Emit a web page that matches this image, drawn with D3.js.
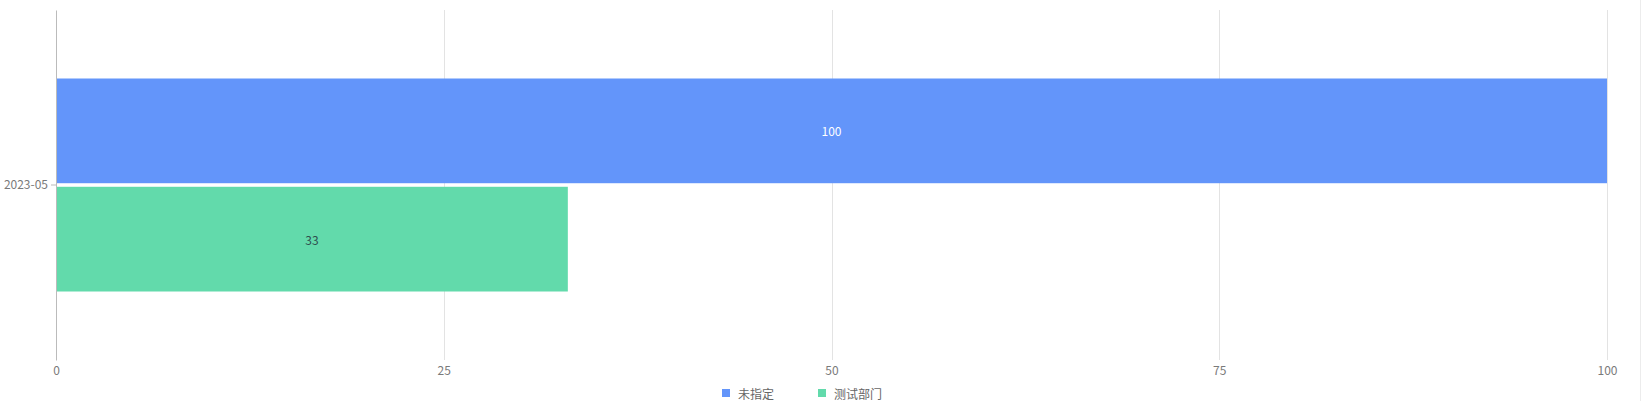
<!DOCTYPE html>
<html>
<head>
<meta charset="utf-8">
<script src="https://cdn.jsdelivr.net/npm/d3@7"></script>
<style>
  html, body { margin: 0; padding: 0; background: #fff; }
  body { font-family: "Noto Sans CJK SC", "Noto Sans", sans-serif; }
  svg { display: block; }
</style>
</head>
<body>
<script>
// data
const categories = ['2023-05'];
const seriesNames = ['未指定', '测试部门'];
const seriesValues = [[100], [33]];
const seriesColors = ['#6395FA', '#62DAAB'];
const labelColors = ['#ffffff', '#2f4f4f'];
const xTicks = [0, 25, 50, 75, 100];

const svgWidth = 1642,
  svgHeight = 401,
  margin = { top: 10, right: 35, bottom: 41, left: 56 },
  width = svgWidth - margin.left - margin.right,
  height = svgHeight - margin.top - margin.bottom;

const svg = d3.select('body').append('svg')
  .attr('width', svgWidth)
  .attr('height', svgHeight);

// faint right border
svg.append('line')
  .attr('x1', svgWidth - 1.5).attr('x2', svgWidth - 1.5)
  .attr('y1', 0).attr('y2', svgHeight)
  .attr('stroke', '#ececec');

const xScale = d3.scaleLinear().domain([0, 100]).range([0, width]);
const yScale = d3.scaleBand().domain(categories).range([0, height]).paddingOuter(0.3216).paddingInner(0);
const subScale = d3.scaleBand().domain(seriesNames).range([0, yScale.bandwidth()]).paddingInner(0.033);

const g = svg.append('g').attr('transform', `translate(${margin.left},${margin.top})`);

// grid lines
g.append('g').selectAll('line').data(xTicks.slice(1)).enter().append('line')
  .attr('x1', d => Math.round(xScale(d)) + 0.5)
  .attr('x2', d => Math.round(xScale(d)) + 0.5)
  .attr('y1', 0).attr('y2', height)
  .attr('stroke', '#e3e3e3');

// bars
const groups = g.append('g').selectAll('g').data(categories).enter().append('g')
  .attr('transform', d => `translate(0,${yScale(d)})`);

seriesNames.forEach((name, si) => {
  groups.append('rect')
    .attr('x', 0)
    .attr('y', subScale(name))
    .attr('width', (d, ci) => xScale(seriesValues[si][ci]))
    .attr('height', subScale.bandwidth())
    .attr('fill', seriesColors[si]);
  groups.append('text')
    .text((d, ci) => seriesValues[si][ci])
    .attr('x', (d, ci) => xScale(seriesValues[si][ci]) / 2)
    .attr('y', subScale(name) + subScale.bandwidth() / 2)
    .attr('text-anchor', 'middle')
    .attr('dominant-baseline', 'central')
    .attr('font-size', 12)
    .attr('fill', labelColors[si]);
});

// y axis
const yAxis = g.append('g').call(d3.axisLeft(yScale).tickSize(5).tickSizeOuter(0));
yAxis.select('.domain').attr('stroke', '#bbbbbb');
yAxis.selectAll('.tick line').attr('stroke', '#bbbbbb');
yAxis.selectAll('.tick text').attr('fill', '#7a7a7a').attr('font-size', 12)
  .attr('font-family', '"Noto Sans CJK SC", sans-serif').attr('x', -8);

// x axis labels
const xAxis = g.append('g').attr('transform', `translate(0,${height})`)
  .call(d3.axisBottom(xScale).tickValues(xTicks).tickSize(0).tickPadding(6));
xAxis.select('.domain').remove();
xAxis.selectAll('.tick text').attr('fill', '#7a7a7a').attr('font-size', 12)
  .attr('font-family', '"Noto Sans CJK SC", sans-serif');

// legend
const legendX = [722, 818];
const legend = svg.append('g').selectAll('g').data(seriesNames).enter().append('g')
  .attr('transform', (d, i) => `translate(${legendX[i]},393)`);
legend.append('rect')
  .attr('x', 0).attr('y', -4).attr('width', 8).attr('height', 8)
  .attr('fill', (d, i) => seriesColors[i]);
legend.append('text')
  .text(d => d)
  .attr('x', 16).attr('y', 0)
  .attr('dominant-baseline', 'central')
  .attr('font-size', 12)
  .attr('fill', '#666');
</script>
</body>
</html>
